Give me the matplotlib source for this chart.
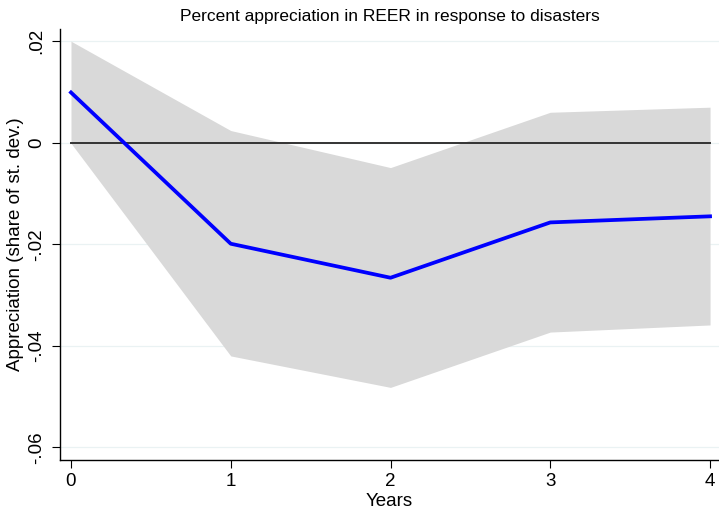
import numpy as np
import matplotlib.pyplot as plt

plt.rcParams['font.family'] = ['Liberation Sans', 'DejaVu Sans']

# data
years = [0, 1, 2, 3, 4]
appreciation = [0.0099, -0.0199, -0.0266, -0.0157, -0.0145]
upper_ci = [0.0200, 0.0024, -0.0049, 0.0060, 0.0070]
lower_ci = [-0.0001, -0.0420, -0.0482, -0.0373, -0.0359]
yticks = [-0.06, -0.04, -0.02, 0, 0.02]
ytick_labels = ['-.06', '-.04', '-.02', '0', '.02']

fig = plt.figure(figsize=(7.19, 5.09), dpi=100)
ax = fig.add_axes([0.0834, 0.0963, 0.9166, 0.8467])

ax.fill_between(years, lower_ci, upper_ci, color='#D9D9D9', lw=0, zorder=2)
ax.plot([years[0], years[-1]], [0, 0], color='#333333', lw=1.4, zorder=3)
ax.plot(years, appreciation, color='#0000FF', lw=2.7, zorder=4)

for t in yticks:
    ax.axhline(t, color='#EAF2F3', lw=0.9, zorder=1)

ax.set_xlim(-0.069, 4.056)
ax.set_ylim(-0.0625, 0.0224)
ax.set_xticks(years)
ax.set_yticks(yticks)
ax.set_yticklabels(ytick_labels, rotation=90, va='center')
ax.tick_params(axis='both', direction='out', length=5.5, width=0.8, labelsize=13.5, color='black')
ax.tick_params(axis='x', pad=4)
ax.tick_params(axis='y', pad=5)

ax.spines['top'].set_visible(False)
ax.spines['right'].set_visible(False)
ax.spines['left'].set_linewidth(1.0)
ax.spines['bottom'].set_linewidth(1.0)

ax.set_title('Percent appreciation in REER in response to disasters', fontsize=12.5, pad=6)
ax.set_xlabel('Years', fontsize=13.5, labelpad=2)
ax.set_ylabel('Appreciation (share of st. dev.)', fontsize=13.5, labelpad=3)

fig.savefig('out.png', dpi=100)
